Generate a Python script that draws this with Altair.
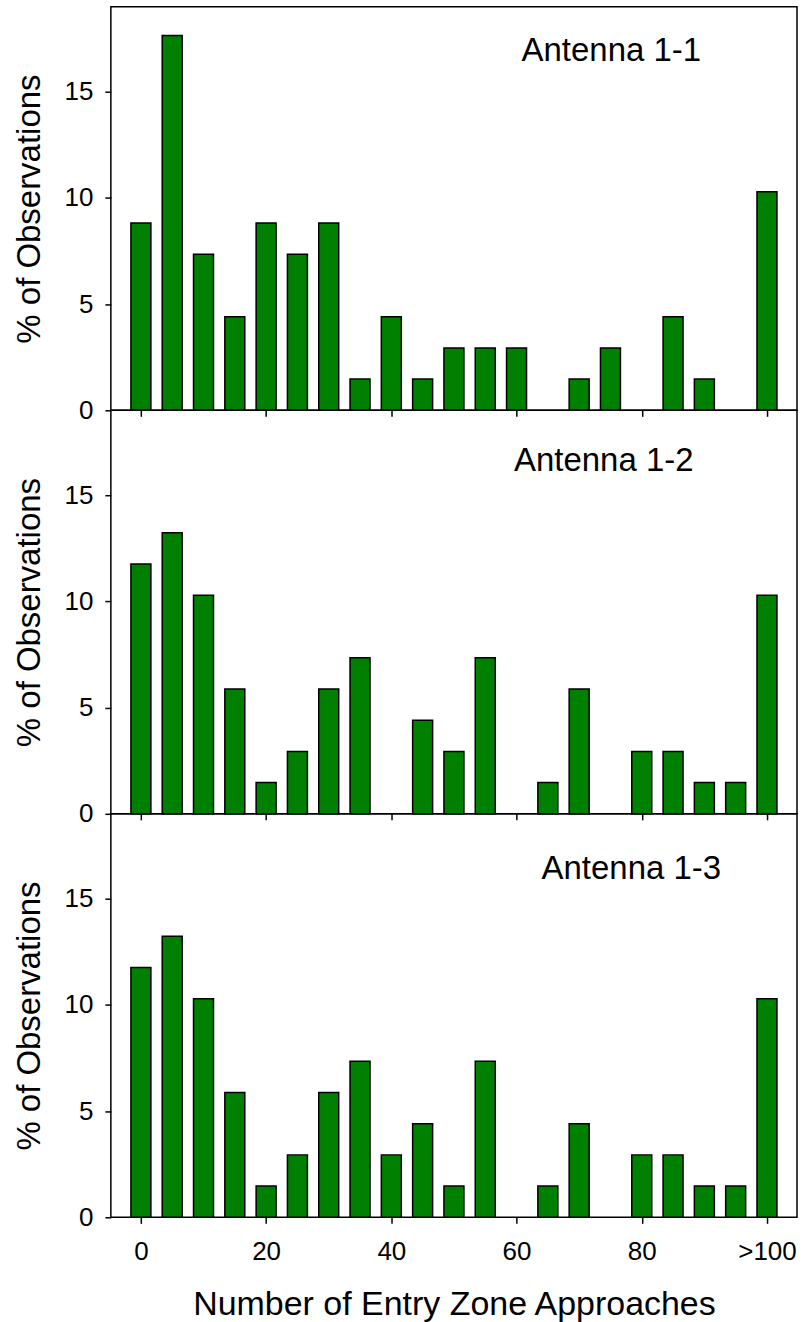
import altair as alt
import pandas as pd

# Bin starts for the number of entry-zone approaches (last bin is ">100")
approaches = list(range(0, 101, 5))

# Percent of observations in each bin, one list per antenna
pct_1_1 = [8.82, 17.65, 7.35, 4.41, 8.82, 7.35, 8.82, 1.47, 4.41, 1.47, 2.94,
           2.94, 2.94, 0.0, 1.47, 2.94, 0.0, 4.41, 1.47, 0.0, 10.29]
pct_1_2 = [11.76, 13.24, 10.29, 5.88, 1.47, 2.94, 5.88, 7.35, 0.0, 4.41, 2.94,
           7.35, 0.0, 1.47, 5.88, 0.0, 2.94, 2.94, 1.47, 1.47, 10.29]
pct_1_3 = [11.76, 13.24, 10.29, 5.88, 1.47, 2.94, 5.88, 7.35, 2.94, 4.41, 1.47,
           7.35, 0.0, 1.47, 4.41, 0.0, 2.94, 2.94, 1.47, 1.47, 10.29]

panel_names = ["Antenna 1-1", "Antenna 1-2", "Antenna 1-3"]
x_tick_values = [0, 20, 40, 60, 80, 100]
y_tick_values = [0, 5, 10, 15]

FONT = "Liberation Sans, Arial, Helvetica, sans-serif"
PANEL_W = 687
PANEL_H = 404


def panel(values, name, label_x, label_y, bottom):
    df = pd.DataFrame({"approaches": approaches, "pct": values})

    x_axis = alt.Axis(
        values=x_tick_values,
        labels=bottom,
        labelExpr="datum.value == 100 ? '>100' : datum.label",
        labelPadding=15,
        titlePadding=23,
        title="Number of Entry Zone Approaches" if bottom else "",
    )
    y_axis = alt.Axis(
        values=y_tick_values,
        title="% of Observations",
        labelPadding=12,
        titlePadding=18,
    )
    x_scale = alt.Scale(domain=[-4, 104], nice=False, zero=False)
    y_scale = alt.Scale(domain=[0, 19], nice=False)

    bars = (
        alt.Chart(df)
        .transform_filter("datum.pct > 0")
        .mark_bar(size=20, color="#008000", stroke="black", strokeWidth=1.5)
        .encode(
            x=alt.X("approaches:Q", scale=x_scale, axis=x_axis),
            y=alt.Y("pct:Q", scale=y_scale, axis=y_axis),
        )
    )

    label_df = pd.DataFrame(
        {"approaches": [label_x], "pct": [label_y], "t": [name]}
    )
    label = (
        alt.Chart(label_df)
        .mark_text(align="left", baseline="middle", fontSize=33, font=FONT,
                   color="black")
        .encode(
            x=alt.X("approaches:Q", scale=x_scale, axis=x_axis),
            y=alt.Y("pct:Q", scale=y_scale, axis=y_axis),
            text="t:N",
        )
    )

    return alt.layer(bars, label).properties(width=PANEL_W, height=PANEL_H)


chart = (
    alt.vconcat(
        panel(pct_1_1, panel_names[0], 60.8, 16.9, False),
        panel(pct_1_2, panel_names[1], 59.6, 16.6, False),
        panel(pct_1_3, panel_names[2], 64.0, 16.4, True),
        spacing=0,
    )
    .properties(
        bounds="flush",
        padding={"left": 12, "top": 5, "right": 5, "bottom": 5},
        background="white",
    )
    .configure_view(stroke="black", strokeWidth=1.5)
    .configure_axis(
        domain=False,
        grid=False,
        ticks=True,
        tickColor="black",
        tickWidth=1.5,
        tickSize=6,
        labelFont=FONT,
        labelFontSize=26,
        labelColor="black",
        titleFont=FONT,
        titleFontSize=33,
        titleFontWeight="normal",
        titleColor="black",
    )
    .configure_axisX(titleFontSize=34)
)

chart.save("out.html", embed_options={"renderer": "svg", "actions": False})
